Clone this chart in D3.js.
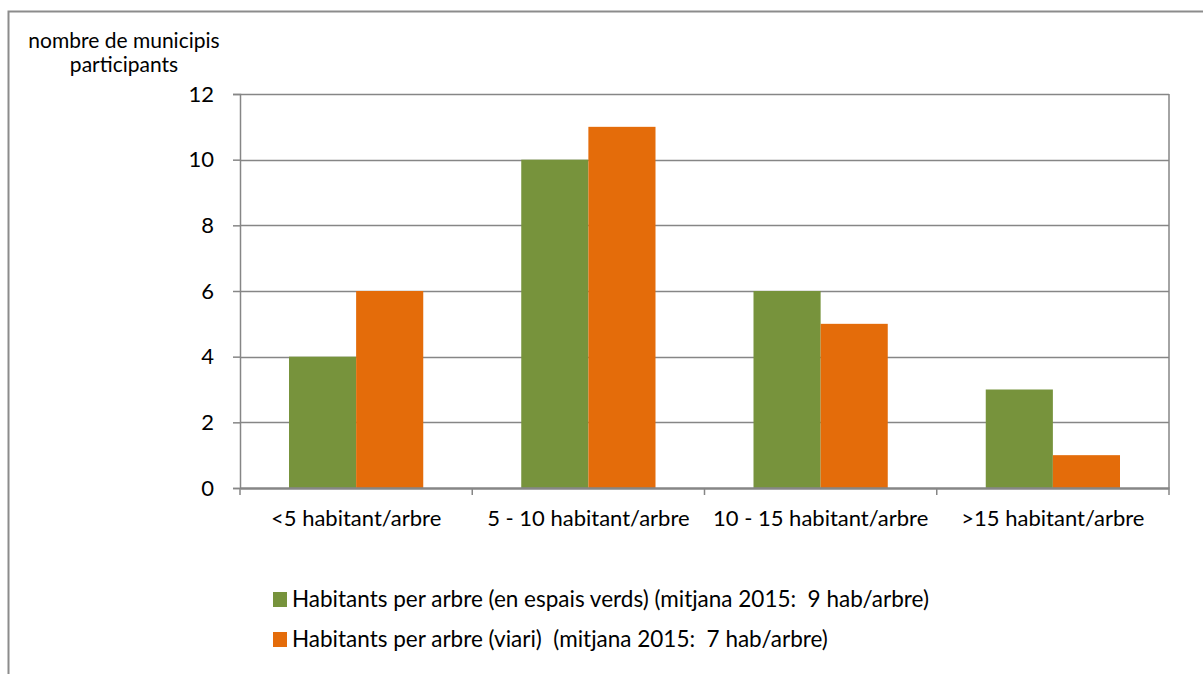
<!DOCTYPE html>
<html>
<head>
<meta charset="utf-8">
<script src="https://cdn.jsdelivr.net/npm/d3@7"></script>
<style>
  body { margin: 0; background: #fff; }
  svg text { font-family: Lato, "Open Sans", sans-serif; white-space: pre; }
</style>
</head>
<body>
<div id="chart"></div>
<script>
const categories = ["<5 habitant/arbre", "5 - 10 habitant/arbre", "10 - 15 habitant/arbre", ">15 habitant/arbre"];
const seriesNames = [
  "Habitants per arbre (en espais verds) (mitjana 2015:  9 hab/arbre)",
  "Habitants per arbre (viari)  (mitjana 2015:  7 hab/arbre)"
];
const greenValues = [4, 10, 6, 3];
const orangeValues = [6, 11, 5, 1];
const yTicks = [0, 2, 4, 6, 8, 10, 12];
const colors = ["#77933c", "#e46c0a"];

const WIDTH = 1203, HEIGHT = 674;
const PLOT = { LEFT: 240, RIGHT: 1169, TOP: 94, BOTTOM: 488 };

const svg = d3.select("#chart").append("svg")
  .attr("width", WIDTH)
  .attr("height", HEIGHT);

// outer frame
svg.append("path")
  .attr("d", `M8.5,${HEIGHT} V11.5 H${WIDTH}`)
  .attr("fill", "none")
  .attr("stroke", "#8c8c8c")
  .attr("stroke-width", 2);

const x = d3.scaleBand().domain(categories).range([PLOT.LEFT, PLOT.RIGHT]);
const xSub = d3.scaleBand().domain([0, 1])
  .range([0, x.bandwidth()])
  .paddingOuter(0.73).paddingInner(0);
const y = d3.scaleLinear().domain([0, 12]).range([PLOT.BOTTOM, PLOT.TOP]);

// gridlines
svg.append("g")
  .selectAll("line")
  .data(yTicks.filter(d => d > 0))
  .join("line")
  .attr("x1", PLOT.LEFT).attr("x2", PLOT.RIGHT)
  .attr("y1", d => Math.round(y(d)) + 0.5).attr("y2", d => Math.round(y(d)) + 0.5)
  .attr("stroke", "#868686").attr("stroke-width", 1.5);

// right border of plot
svg.append("line")
  .attr("x1", PLOT.RIGHT).attr("x2", PLOT.RIGHT)
  .attr("y1", PLOT.TOP).attr("y2", PLOT.BOTTOM)
  .attr("stroke", "#868686").attr("stroke-width", 1.5);

// bars
const rows = categories.map((c, i) => ({ cat: c, values: [greenValues[i], orangeValues[i]] }));
svg.append("g")
  .selectAll("g")
  .data(rows)
  .join("g")
  .attr("transform", d => `translate(${x(d.cat)},0)`)
  .selectAll("rect")
  .data(d => d.values.map((v, k) => ({ k, v })))
  .join("rect")
  .attr("x", d => xSub(d.k))
  .attr("width", xSub.bandwidth())
  .attr("y", d => y(d.v))
  .attr("height", d => y(0) - y(d.v))
  .attr("fill", d => colors[d.k]);

// y axis
const yAxis = svg.append("g")
  .attr("transform", `translate(${PLOT.LEFT},0)`)
  .call(d3.axisLeft(y).tickValues(yTicks).tickSize(7).tickPadding(19));
yAxis.attr("font-family", null);
yAxis.select(".domain").attr("stroke", "#868686").attr("stroke-width", 1.5);
yAxis.selectAll(".tick line").attr("stroke", "#868686").attr("stroke-width", 1.5);
yAxis.selectAll(".tick text").attr("font-size", "22px").attr("fill", "#000");

// x axis
const xAxis = svg.append("g")
  .attr("transform", `translate(0,${PLOT.BOTTOM})`)
  .call(d3.axisBottom(x).tickSize(0).tickPadding(22));
xAxis.attr("font-family", null);
xAxis.select(".domain").attr("stroke", "#868686").attr("stroke-width", 2.5);
xAxis.selectAll(".tick text").attr("font-size", "22px").attr("fill", "#000");
svg.append("g")
  .selectAll("line")
  .data(categories.map(c => x(c)).concat([PLOT.RIGHT]))
  .join("line")
  .attr("x1", d => d).attr("x2", d => d)
  .attr("y1", PLOT.BOTTOM).attr("y2", PLOT.BOTTOM + 7)
  .attr("stroke", "#868686").attr("stroke-width", 1.5);

// y title
svg.append("text")
  .attr("x", 124).attr("y", 48)
  .attr("text-anchor", "middle")
  .attr("font-size", "21px")
  .selectAll("tspan")
  .data(["nombre de municipis", "participants"])
  .join("tspan")
  .attr("x", 124)
  .attr("dy", (d, i) => i === 0 ? 0 : 24)
  .text(d => d);

// legend
const legend = svg.append("g")
  .selectAll("g")
  .data(seriesNames)
  .join("g")
  .attr("transform", (d, i) => `translate(273,${592 + i * 40})`);
legend.append("rect")
  .attr("width", 14).attr("height", 15)
  .attr("fill", (d, i) => colors[i]);
legend.append("text")
  .attr("x", 19).attr("y", 15)
  .attr("font-size", "22.5px")
  .text(d => d);
</script>
</body>
</html>
